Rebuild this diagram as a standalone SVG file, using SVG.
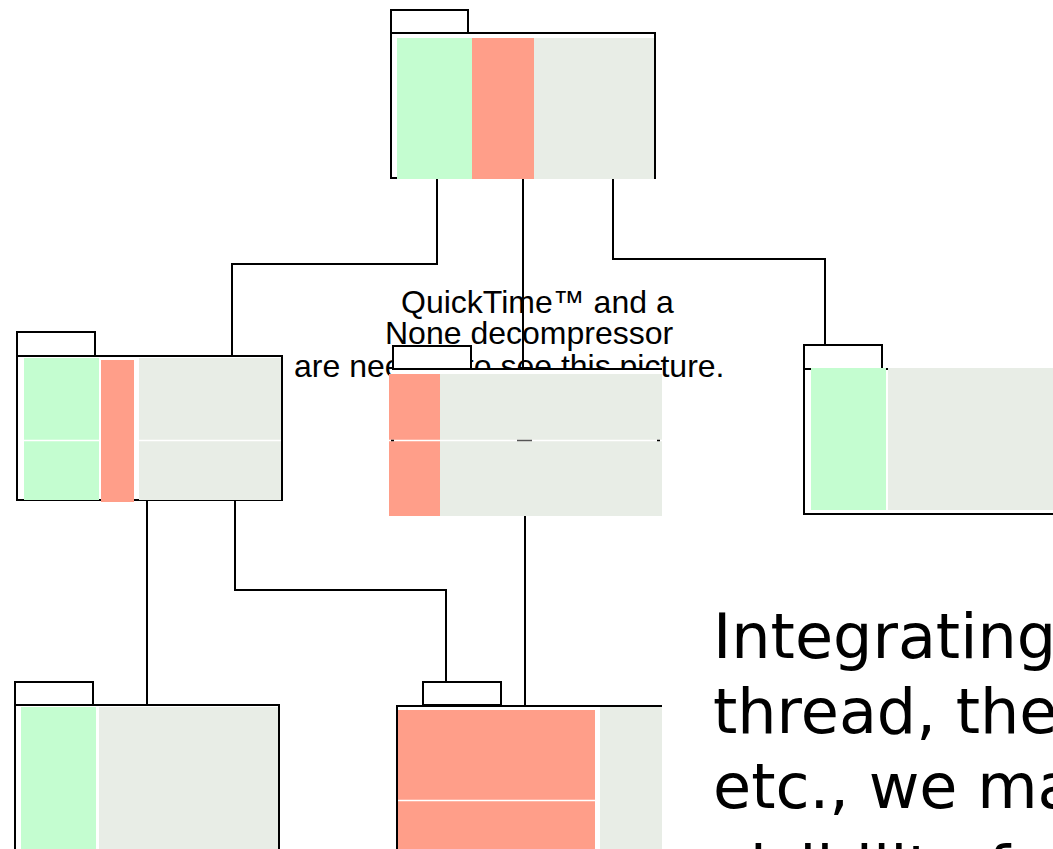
<svg xmlns="http://www.w3.org/2000/svg" width="1053" height="849" viewBox="0 0 1053 849">
<style>
.box{fill:#fff;stroke:#000;stroke-width:2}
.ln{fill:none;stroke:#000;stroke-width:2}
.g{fill:#C4FDD0}
.s{fill:#FF9E89}
.y{fill:#E8EDE6}
.sep{stroke:#fff;stroke-width:1.5}
.qt{font-family:"Liberation Sans",Arial,sans-serif;font-size:32px;fill:#000}
.big{font-family:"DejaVu Sans",sans-serif;font-size:62px;fill:#000}
</style>
<rect width="1053" height="849" fill="#fff"/>
<g id="placeholder-text" class="qt">
<text x="401" y="313">QuickTime™ and a</text>
<text x="385" y="344">None decompressor</text>
<text x="294" y="377">are needed to see this picture.</text>
</g>
<g id="connectors" class="ln">
<path d="M437,179 V264 H232 V356"/>
<path d="M523,179 V369"/>
<path d="M613,179 V259 H825 V345"/>
<path d="M147,500 V705"/>
<path d="M235,500 V590 H446 V682"/>
<path d="M525,516 V706"/>
</g>
<g id="node-top">
<rect class="box" x="391" y="10" width="77" height="23"/>
<rect class="box" x="391" y="33" width="264" height="145"/>
<rect class="g" x="397" y="38" width="75" height="141"/>
<rect class="s" x="472" y="38" width="62" height="141"/>
<rect class="y" x="534" y="38" width="120" height="141"/>
</g>
<g id="node-left">
<rect class="box" x="17" y="332" width="78" height="24"/>
<rect class="box" x="17" y="356" width="265" height="144"/>
<rect class="g" x="24" y="358" width="75" height="142"/>
<rect class="s" x="101" y="360" width="33" height="142"/>
<rect class="y" x="139" y="358" width="142" height="142"/>
<line class="sep" x1="24" y1="440.5" x2="99" y2="440.5"/>
<line class="sep" x1="139" y1="440.5" x2="281" y2="440.5"/>
</g>
<g id="node-middle">
<rect fill="#fff" x="393" y="369" width="269" height="147"/>
<rect class="box" x="393" y="346" width="78" height="23"/>
<line class="ln" x1="393" y1="369" x2="662" y2="369"/>
<rect class="s" x="389" y="374" width="51" height="142"/>
<rect class="y" x="440" y="374" width="222" height="142"/>
<line class="sep" x1="389" y1="440.5" x2="662" y2="440.5"/>
<line stroke="#000" stroke-width="1.5" x1="391" y1="440.5" x2="394" y2="440.5"/>
<line stroke="#555" stroke-width="1.5" x1="517" y1="440.5" x2="532" y2="440.5"/>
<line stroke="#000" stroke-width="1.5" x1="657" y1="440.5" x2="660" y2="440.5"/>
</g>
<g id="node-right">
<rect class="box" x="804" y="345" width="78" height="24"/>
<rect class="box" x="804" y="369" width="270" height="145"/>
<rect class="g" x="811" y="368" width="75" height="142"/>
<rect class="y" x="888" y="368" width="165" height="142"/>
</g>
<g id="node-bottom-left">
<rect class="box" x="15" y="682" width="78" height="23"/>
<rect class="box" x="15" y="705" width="264" height="170"/>
<rect class="g" x="21" y="707" width="75" height="142"/>
<rect class="y" x="99" y="707" width="179" height="142"/>
</g>
<g id="node-bottom-middle">
<rect class="box" x="423" y="682" width="78" height="23"/>
<rect fill="#fff" x="397" y="706" width="265" height="143"/>
<path class="ln" d="M397,849 V706 H662"/>
<rect class="s" x="398" y="710" width="197" height="139"/>
<rect class="y" x="600" y="707" width="62" height="142"/>
<line class="sep" x1="398" y1="800.5" x2="595" y2="800.5"/>
</g>
<g id="body-text" class="big">
<text x="713" y="658">Integrating</text>
<text x="713" y="733">thread, the</text>
<text x="713" y="808">etc., we ma</text>
<text x="713" y="890">visibility f</text>
</g>
</svg>
